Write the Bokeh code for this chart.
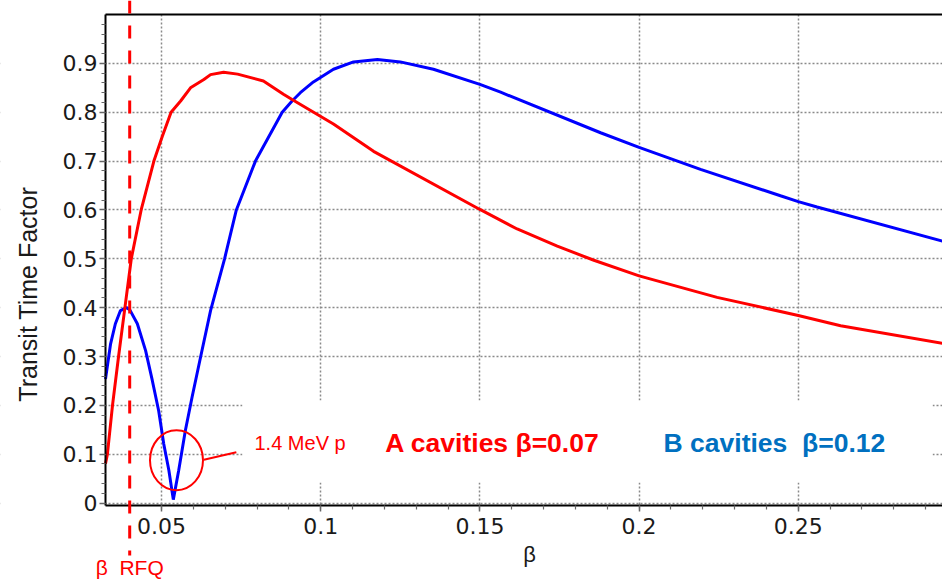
from bokeh.plotting import figure
from bokeh.models import FixedTicker, Label, Arrow, BoxAnnotation, LinearAxis, Range1d
from bokeh.embed import file_html
from bokeh.resources import INLINE

# ---- data ----
beta_a = [0.0324, 0.0330, 0.0346, 0.0365, 0.0385, 0.0405, 0.0436, 0.0476, 0.0502, 0.0530,
          0.0560, 0.0591, 0.0633, 0.0654, 0.0695, 0.0739, 0.0820, 0.0883, 0.0910, 0.1040,
          0.1166, 0.1500, 0.1617, 0.1743, 0.1858, 0.2000, 0.2245, 0.2500, 0.2633, 0.2953]
ttf_a = [0.0805, 0.100, 0.200, 0.300, 0.400, 0.500, 0.600, 0.700, 0.750, 0.800,
         0.823, 0.850, 0.867, 0.877, 0.882, 0.878, 0.864, 0.837, 0.826, 0.776,
         0.720, 0.601, 0.561, 0.526, 0.497, 0.465, 0.421, 0.384, 0.363, 0.327]

beta_b = [0.0324, 0.0340, 0.0355, 0.0371, 0.0390, 0.0400, 0.0424, 0.0450, 0.0471, 0.0491,
          0.0507, 0.0523, 0.0537, 0.0554, 0.0575, 0.0596, 0.0622, 0.0654, 0.0698,
          0.0735, 0.0795, 0.0879, 0.0910, 0.0936, 0.0977, 0.1040, 0.1103, 0.1178, 0.1250,
          0.1354, 0.1500, 0.1565, 0.1879, 0.2000, 0.2193, 0.2444, 0.2500, 0.2559, 0.2953]
ttf_b = [0.254, 0.326, 0.367, 0.394, 0.400, 0.396, 0.367, 0.312, 0.251, 0.189,
         0.121, 0.067, 0.007, 0.067, 0.149, 0.217, 0.297, 0.394, 0.500,
         0.600, 0.700, 0.800, 0.823, 0.840, 0.862, 0.888, 0.903, 0.908, 0.903,
         0.888, 0.857, 0.841, 0.758, 0.728, 0.683, 0.629, 0.617, 0.606, 0.536]

beta_rfq = 0.040
marker_beta = [0.0547]
marker_ttf = [0.0877]

x_ticks = [0.05, 0.1, 0.15, 0.2, 0.25]
x_tick_labels = ["0.05", "0.1", "0.15", "0.2", "0.25"]
y_ticks = [0.0, 0.1, 0.2, 0.3, 0.4, 0.5, 0.6, 0.7, 0.8, 0.9]
y_tick_labels = ["0", "0.1", "0.2", "0.3", "0.4", "0.5", "0.6", "0.7", "0.8", "0.9"]

# plotting region (data) and the full canvas extent (data) it sits in
x_lo, x_hi = 0.0324, 0.2953
y_lo, y_hi = -0.005, 1.0
canvas_x = (-0.00058, 0.2953)
canvas_y = (-0.1585, 1.0287)

RED = "#ff0000"
BLUE = "#0000ff"
BLUE_TXT = "#0070c0"
TICK_FONT = "DejaVu Sans"
FONT = "Liberation Sans"

p = figure(width=942, height=580, x_range=Range1d(*canvas_x), y_range=Range1d(*canvas_y),
           output_backend="svg", toolbar_location=None,
           min_border_left=0, min_border_right=0, min_border_top=0, min_border_bottom=0,
           background_fill_color="white", border_fill_color="white")
p.title.visible = False
p.outline_line_color = None

# axes placed at the edges of the plotting region
p.xaxis.fixed_location = y_lo
p.yaxis.fixed_location = x_lo
p.xaxis.bounds = (x_lo, x_hi)
p.yaxis.bounds = (y_lo, y_hi)
p.xaxis.ticker = FixedTicker(ticks=x_ticks, minor_ticks=[round(0.01 * i, 2) for i in range(4, 30)])
p.yaxis.ticker = FixedTicker(ticks=y_ticks, minor_ticks=[round(0.02 * i, 2) for i in range(0, 50)])
p.xaxis.major_label_overrides = dict(zip(x_ticks, x_tick_labels))
p.yaxis.major_label_overrides = dict(zip(y_ticks, y_tick_labels))
for ax in (p.xaxis[0], p.yaxis[0]):
    ax.axis_line_color = "black"
    ax.axis_line_width = 2
    ax.major_tick_line_color = "#666666"
    ax.minor_tick_line_color = "#666666"
    ax.major_tick_line_width = 1.5
    ax.minor_tick_line_width = 1.2
    ax.major_tick_in = 0
    ax.minor_tick_in = 0
    ax.major_tick_out = 6
    ax.minor_tick_out = 4
    ax.major_label_text_font = TICK_FONT
    ax.major_label_text_font_size = "22px"
    ax.major_label_text_color = "#1a1a1a"
p.xaxis.major_label_standoff = 6
p.yaxis.major_label_standoff = 2

top = LinearAxis(ticker=FixedTicker(ticks=[]), axis_line_color="black", axis_line_width=2,
                 major_tick_out=0, major_tick_in=0, minor_tick_out=0, minor_tick_in=0,
                 major_label_text_font_size="0px", fixed_location=y_hi, bounds=(x_lo, x_hi))
p.add_layout(top, "above")

# grid
for g in (p.xgrid[0], p.ygrid[0]):
    g.grid_line_color = "#8a8a8a"
    g.grid_line_dash = "2 2"
    g.grid_line_width = 1.5

# keep the grid inside the plotting region
p.add_layout(BoxAnnotation(bottom=y_hi, fill_color="white", fill_alpha=1.0, line_color=None, level="underlay"))
p.add_layout(BoxAnnotation(top=y_lo, fill_color="white", fill_alpha=1.0, line_color=None, level="underlay"))
p.add_layout(BoxAnnotation(right=x_lo, fill_color="white", fill_alpha=1.0, line_color=None, level="underlay"))
# white panel behind the cavity texts (hides grid there)
p.add_layout(BoxAnnotation(left=0.0754, right=0.2922, bottom=0.0421, top=0.2099,
                           fill_color="white", fill_alpha=1.0, line_color=None, level="underlay"))

# curves
p.line(beta_b, ttf_b, line_color=BLUE, line_width=3)
p.line(beta_a, ttf_a, line_color=RED, line_width=3)

# marker ellipse + connector
p.ellipse(marker_beta, marker_ttf, width=53, height=60, width_units="screen", height_units="screen",
          fill_color=None, line_color=RED, line_width=2)
p.segment(x0=[0.0633], y0=[0.0885], x1=[0.0735], y1=[0.1041], line_color=RED, line_width=2)

# beta RFQ dashed line
p.add_layout(Arrow(end=None, x_start=beta_rfq, y_start=canvas_y[1], x_end=beta_rfq, y_end=-0.1073,
                   line_color=RED, line_width=3, line_dash="13 12"))

# texts
p.add_layout(Label(x=0.0792, y=0.1235, text="1.4 MeV p", text_font=FONT, text_font_size="20px",
                   text_color=RED, text_baseline="alphabetic", text_align="left"))
p.add_layout(Label(x=0.1203, y=0.1229, text="A cavities β=0.07", text_font=FONT, text_font_size="26.5px",
                   text_font_style="bold", text_color=RED, text_baseline="alphabetic", text_align="left"))
p.add_layout(Label(x=0.2077, y=0.1229, text="B cavities \u00a0β=0.12", text_font=FONT, text_font_size="26.5px",
                   text_font_style="bold", text_color=BLUE_TXT, text_baseline="alphabetic", text_align="left"))
p.add_layout(Label(x=beta_rfq, y=-0.1329, text="β \u00a0RFQ", text_font=FONT, text_font_size="21px",
                   text_color=RED, text_baseline="alphabetic", text_align="center"))
p.add_layout(Label(x=0.1656, y=-0.1063, text="β", text_font=FONT, text_font_size="22px",
                   text_color="#1a1a1a", text_baseline="alphabetic", text_align="center"))
p.add_layout(Label(x=0.00806, y=0.4275, text="Transit Time Factor", text_font=FONT, text_font_size="25px",
                   text_color="#1a1a1a", angle=90, angle_units="deg",
                   text_baseline="middle", text_align="center"))

open("out.html", "w").write(file_html(p, INLINE))
